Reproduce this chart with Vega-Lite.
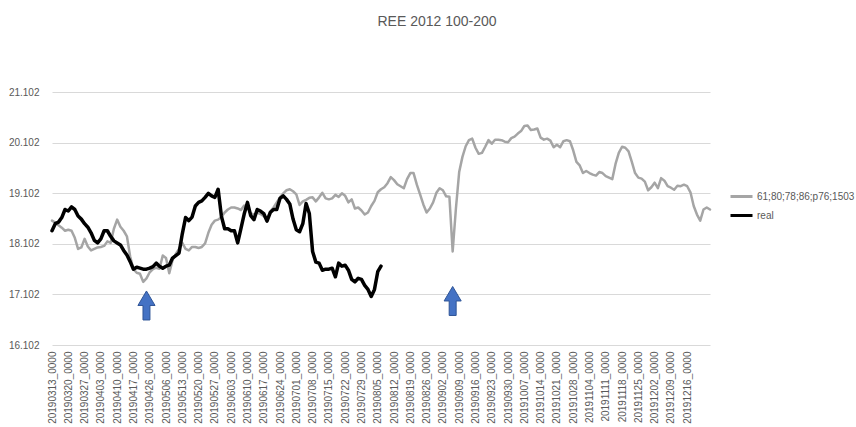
{
  "$schema": "https://vega.github.io/schema/vega-lite/v6.json",
  "autosize": {"type": "none"},
  "width": 658,
  "height": 253,
  "padding": {"left": 52, "top": 92, "right": 146, "bottom": 82},
  "background": "white",
  "title": {
    "text": "REE 2012 100-200",
    "font": "Liberation Sans",
    "fontSize": 14,
    "fontWeight": "normal",
    "color": "#595959",
    "anchor": "middle",
    "frame": "group",
    "dx": 56,
    "offset": 58
  },
  "datasets": {
    "gray": [
      {"idx":0,"value":18.56},{"idx":1,"value":18.52},{"idx":2,"value":18.47},{"idx":3,"value":18.42},{"idx":4,"value":18.36},
      {"idx":5,"value":18.38},{"idx":6,"value":18.36},{"idx":7,"value":18.22},{"idx":8,"value":18.0},{"idx":9,"value":18.03},
      {"idx":10,"value":18.2},{"idx":11,"value":18.05},{"idx":12,"value":17.97},{"idx":13,"value":18.0},{"idx":14,"value":18.03},
      {"idx":15,"value":18.04},{"idx":16,"value":18.06},{"idx":17,"value":18.15},{"idx":18,"value":18.12},{"idx":19,"value":18.4},
      {"idx":20,"value":18.58},{"idx":21,"value":18.44},{"idx":22,"value":18.36},{"idx":23,"value":18.25},{"idx":24,"value":17.85},
      {"idx":25,"value":17.6},{"idx":26,"value":17.53},{"idx":27,"value":17.51},{"idx":28,"value":17.35},{"idx":29,"value":17.42},
      {"idx":30,"value":17.54},{"idx":31,"value":17.6},{"idx":32,"value":17.63},{"idx":33,"value":17.61},{"idx":34,"value":17.87},
      {"idx":35,"value":17.82},{"idx":36,"value":17.52},{"idx":37,"value":17.78},{"idx":38,"value":17.9},{"idx":39,"value":18.0},
      {"idx":40,"value":18.12},{"idx":41,"value":18.0},{"idx":42,"value":17.97},{"idx":43,"value":18.04},{"idx":44,"value":18.04},
      {"idx":45,"value":18.02},{"idx":46,"value":18.04},{"idx":47,"value":18.11},{"idx":48,"value":18.32},{"idx":49,"value":18.48},
      {"idx":50,"value":18.56},{"idx":51,"value":18.58},{"idx":52,"value":18.63},{"idx":53,"value":18.72},{"idx":54,"value":18.78},
      {"idx":55,"value":18.82},{"idx":56,"value":18.82},{"idx":57,"value":18.8},{"idx":58,"value":18.77},{"idx":59,"value":18.86},
      {"idx":60,"value":18.81},{"idx":61,"value":18.7},{"idx":62,"value":18.68},{"idx":63,"value":18.72},{"idx":64,"value":18.69},
      {"idx":65,"value":18.65},{"idx":66,"value":18.58},{"idx":67,"value":18.74},{"idx":68,"value":18.82},{"idx":69,"value":18.92},
      {"idx":70,"value":19.02},{"idx":71,"value":19.1},{"idx":72,"value":19.16},{"idx":73,"value":19.18},{"idx":74,"value":19.14},
      {"idx":75,"value":19.08},{"idx":76,"value":18.87},{"idx":77,"value":18.94},{"idx":78,"value":18.97},{"idx":79,"value":19.01},
      {"idx":80,"value":19.02},{"idx":81,"value":18.94},{"idx":82,"value":19.02},{"idx":83,"value":19.11},{"idx":84,"value":19.0},
      {"idx":85,"value":18.98},{"idx":86,"value":19.0},{"idx":87,"value":19.07},{"idx":88,"value":19.03},{"idx":89,"value":19.1},
      {"idx":90,"value":19.05},{"idx":91,"value":18.92},{"idx":92,"value":18.98},{"idx":93,"value":18.8},{"idx":94,"value":18.82},
      {"idx":95,"value":18.76},{"idx":96,"value":18.68},{"idx":97,"value":18.72},{"idx":98,"value":18.85},{"idx":99,"value":18.95},
      {"idx":100,"value":19.12},{"idx":101,"value":19.18},{"idx":102,"value":19.22},{"idx":103,"value":19.3},{"idx":104,"value":19.42},
      {"idx":105,"value":19.36},{"idx":106,"value":19.28},{"idx":107,"value":19.24},{"idx":108,"value":19.2},{"idx":109,"value":19.38},
      {"idx":110,"value":19.5},{"idx":111,"value":19.5},{"idx":112,"value":19.27},{"idx":113,"value":19.08},{"idx":114,"value":18.88},
      {"idx":115,"value":18.72},{"idx":116,"value":18.8},{"idx":117,"value":18.92},{"idx":118,"value":19.11},{"idx":119,"value":19.2},
      {"idx":120,"value":19.16},{"idx":121,"value":19.04},{"idx":122,"value":19.03},{"idx":123,"value":17.95},{"idx":124,"value":18.8},
      {"idx":125,"value":19.52},{"idx":126,"value":19.82},{"idx":127,"value":20.03},{"idx":128,"value":20.15},{"idx":129,"value":20.18},
      {"idx":130,"value":20.0},{"idx":131,"value":19.88},{"idx":132,"value":19.9},{"idx":133,"value":20.02},{"idx":134,"value":20.15},
      {"idx":135,"value":20.08},{"idx":136,"value":20.16},{"idx":137,"value":20.16},{"idx":138,"value":20.15},{"idx":139,"value":20.12},
      {"idx":140,"value":20.11},{"idx":141,"value":20.19},{"idx":142,"value":20.22},{"idx":143,"value":20.28},{"idx":144,"value":20.33},
      {"idx":145,"value":20.43},{"idx":146,"value":20.44},{"idx":147,"value":20.35},{"idx":148,"value":20.36},{"idx":149,"value":20.38},
      {"idx":150,"value":20.2},{"idx":151,"value":20.16},{"idx":152,"value":20.18},{"idx":153,"value":20.14},{"idx":154,"value":20.01},
      {"idx":155,"value":20.06},{"idx":156,"value":20.01},{"idx":157,"value":20.13},{"idx":158,"value":20.15},{"idx":159,"value":20.13},
      {"idx":160,"value":19.95},{"idx":161,"value":19.72},{"idx":162,"value":19.65},{"idx":163,"value":19.5},{"idx":164,"value":19.54},
      {"idx":165,"value":19.5},{"idx":166,"value":19.47},{"idx":167,"value":19.45},{"idx":168,"value":19.52},{"idx":169,"value":19.5},
      {"idx":170,"value":19.44},{"idx":171,"value":19.41},{"idx":172,"value":19.38},{"idx":173,"value":19.68},{"idx":174,"value":19.9},
      {"idx":175,"value":20.02},{"idx":176,"value":20.0},{"idx":177,"value":19.93},{"idx":178,"value":19.72},{"idx":179,"value":19.5},
      {"idx":180,"value":19.41},{"idx":181,"value":19.39},{"idx":182,"value":19.33},{"idx":183,"value":19.16},{"idx":184,"value":19.22},
      {"idx":185,"value":19.31},{"idx":186,"value":19.2},{"idx":187,"value":19.4},{"idx":188,"value":19.35},{"idx":189,"value":19.24},
      {"idx":190,"value":19.21},{"idx":191,"value":19.17},{"idx":192,"value":19.25},{"idx":193,"value":19.24},{"idx":194,"value":19.27},
      {"idx":195,"value":19.24},{"idx":196,"value":19.12},{"idx":197,"value":18.85},{"idx":198,"value":18.68},{"idx":199,"value":18.56},
      {"idx":200,"value":18.78},{"idx":201,"value":18.82},{"idx":202,"value":18.78}
    ],
    "real": [
      {"idx":0,"value":18.36},{"idx":1,"value":18.5},{"idx":2,"value":18.53},{"idx":3,"value":18.62},{"idx":4,"value":18.78},
      {"idx":5,"value":18.75},{"idx":6,"value":18.83},{"idx":7,"value":18.78},{"idx":8,"value":18.65},{"idx":9,"value":18.59},
      {"idx":10,"value":18.5},{"idx":11,"value":18.43},{"idx":12,"value":18.32},{"idx":13,"value":18.17},{"idx":14,"value":18.12},
      {"idx":15,"value":18.2},{"idx":16,"value":18.36},{"idx":17,"value":18.36},{"idx":18,"value":18.25},{"idx":19,"value":18.16},
      {"idx":20,"value":18.12},{"idx":21,"value":18.08},{"idx":22,"value":17.97},{"idx":23,"value":17.88},{"idx":24,"value":17.75},
      {"idx":25,"value":17.6},{"idx":26,"value":17.64},{"idx":27,"value":17.62},{"idx":28,"value":17.6},{"idx":29,"value":17.6},
      {"idx":30,"value":17.62},{"idx":31,"value":17.65},{"idx":32,"value":17.72},{"idx":33,"value":17.66},{"idx":34,"value":17.62},
      {"idx":35,"value":17.66},{"idx":36,"value":17.68},{"idx":37,"value":17.82},{"idx":38,"value":17.87},{"idx":39,"value":17.92},
      {"idx":40,"value":18.3},{"idx":41,"value":18.62},{"idx":42,"value":18.56},{"idx":43,"value":18.63},{"idx":44,"value":18.85},
      {"idx":45,"value":18.92},{"idx":46,"value":18.95},{"idx":47,"value":19.02},{"idx":48,"value":19.1},{"idx":49,"value":19.05},
      {"idx":50,"value":19.02},{"idx":51,"value":19.18},{"idx":52,"value":18.65},{"idx":53,"value":18.4},{"idx":54,"value":18.4},
      {"idx":55,"value":18.36},{"idx":56,"value":18.36},{"idx":57,"value":18.12},{"idx":58,"value":18.4},{"idx":59,"value":18.69},
      {"idx":60,"value":18.92},{"idx":61,"value":18.66},{"idx":62,"value":18.58},{"idx":63,"value":18.78},{"idx":64,"value":18.75},
      {"idx":65,"value":18.7},{"idx":66,"value":18.55},{"idx":67,"value":18.72},{"idx":68,"value":18.78},{"idx":69,"value":18.78},
      {"idx":70,"value":19.0},{"idx":71,"value":19.05},{"idx":72,"value":18.98},{"idx":73,"value":18.89},{"idx":74,"value":18.59},
      {"idx":75,"value":18.38},{"idx":76,"value":18.34},{"idx":77,"value":18.5},{"idx":78,"value":18.9},{"idx":79,"value":18.7},
      {"idx":80,"value":17.95},{"idx":81,"value":17.74},{"idx":82,"value":17.72},{"idx":83,"value":17.58},{"idx":84,"value":17.6},
      {"idx":85,"value":17.6},{"idx":86,"value":17.62},{"idx":87,"value":17.45},{"idx":88,"value":17.72},{"idx":89,"value":17.66},
      {"idx":90,"value":17.68},{"idx":91,"value":17.58},{"idx":92,"value":17.4},{"idx":93,"value":17.35},{"idx":94,"value":17.42},
      {"idx":95,"value":17.4},{"idx":96,"value":17.28},{"idx":97,"value":17.2},{"idx":98,"value":17.06},{"idx":99,"value":17.2},
      {"idx":100,"value":17.55},{"idx":101,"value":17.66}
    ],
    "arrows": [
      {"idx":29,"value":16.883},
      {"idx":123,"value":16.972}
    ]
  },
  "layer": [
    {
      "data": {"name": "gray"},
      "mark": {"type": "line", "strokeWidth": 2.5, "strokeJoin": "round", "strokeCap": "round"},
      "encoding": {
        "x": {
          "field": "idx",
          "type": "quantitative",
          "scale": {"domain": [0, 202], "nice": false, "zero": false},
          "axis": {
            "values": [0,5,10,15,20,25,30,35,40,45,50,55,60,65,70,75,80,85,90,95,100,105,110,115,120,125,130,135,140,145,150,155,160,165,170,175,180,185,190,195],
            "tickCount": 60,
            "labelExpr": "['20190313_0000','20190320_0000','20190327_0000','20190403_0000','20190410_0000','20190417_0000','20190426_0000','20190506_0000','20190513_0000','20190520_0000','20190527_0000','20190603_0000','20190610_0000','20190617_0000','20190624_0000','20190701_0000','20190708_0000','20190715_0000','20190722_0000','20190729_0000','20190805_0000','20190812_0000','20190819_0000','20190826_0000','20190902_0000','20190909_0000','20190916_0000','20190923_0000','20190930_0000','20191007_0000','20191014_0000','20191021_0000','20191028_0000','20191104_0000','20191111_0000','20191118_0000','20191125_0000','20191202_0000','20191209_0000','20191216_0000'][round(datum.value/5)]",
            "labelAngle": -90,
            "labelFont": "Liberation Sans",
            "labelFontSize": 10,
            "labelColor": "#595959",
            "labelPadding": 6,
            "labelOverlap": false,
            "labelBound": false,
            "labelFlush": false,
            "ticks": false,
            "domain": false,
            "grid": false,
            "title": null
          }
        },
        "y": {
          "field": "value",
          "type": "quantitative",
          "scale": {"domain": [16.102, 21.102], "nice": false, "zero": false},
          "axis": {
            "values": [16.102, 17.102, 18.102, 19.102, 20.102, 21.102],
            "labelExpr": "format(datum.value, '.3f')",
            "labelFont": "Liberation Sans",
            "labelFontSize": 10,
            "labelColor": "#595959",
            "labelPadding": 13,
            "grid": true,
            "gridColor": "#d9d9d9",
            "gridWidth": 1,
            "ticks": false,
            "domain": false,
            "title": null
          }
        },
        "color": {
          "datum": "61;80;78;86;p76;1503",
          "type": "nominal",
          "scale": {"domain": ["61;80;78;86;p76;1503", "real"], "range": ["#a5a5a5", "#000000"]},
          "legend": {
            "orient": "none",
            "legendX": 677,
            "legendY": 92,
            "title": null,
            "symbolType": "stroke",
            "symbolSize": 484,
            "symbolStrokeWidth": 3,
            "labelFont": "Liberation Sans",
            "labelFontSize": 10,
            "labelColor": "#595959",
            "labelOffset": 3,
            "rowPadding": -6
          }
        }
      }
    },
    {
      "data": {"name": "real"},
      "mark": {"type": "line", "strokeWidth": 3.5, "strokeJoin": "round", "strokeCap": "round"},
      "encoding": {
        "x": {"field": "idx", "type": "quantitative"},
        "y": {"field": "value", "type": "quantitative"},
        "color": {"datum": "real", "type": "nominal"}
      }
    },
    {
      "data": {"name": "arrows"},
      "mark": {
        "type": "point",
        "shape": "M0,-1L0.59,0L0.24,0L0.24,1L-0.24,1L-0.24,0L-0.59,0Z",
        "filled": true,
        "size": 841,
        "fill": "#4472C4",
        "stroke": "#2F5597",
        "strokeWidth": 1,
        "opacity": 1
      },
      "encoding": {
        "x": {"field": "idx", "type": "quantitative"},
        "y": {"field": "value", "type": "quantitative"}
      }
    }
  ],
  "config": {
    "view": {"stroke": null}
  }
}
